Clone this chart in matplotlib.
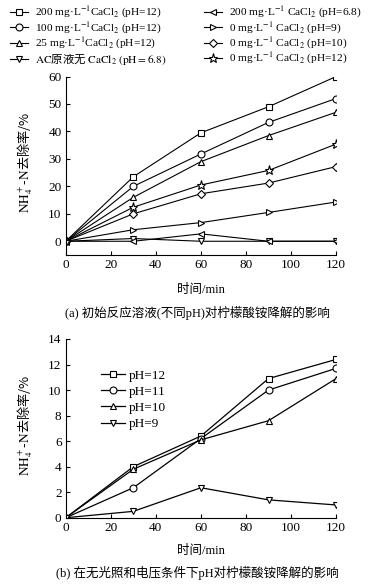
import matplotlib
matplotlib.use("Agg")
import matplotlib.pyplot as plt

plt.rcParams['font.family'] = ['Liberation Serif', 'Noto Sans CJK SC']
plt.rcParams['mathtext.fontset'] = 'stix'
plt.rcParams['axes.linewidth'] = 0.8

CJK = 'Noto Sans CJK SC'

# time points (min), shared by both panels
t = [0, 30, 60, 90, 120]

# panel (a): NH4+-N removal (%)
ca200_ph12 = [0, 23.5, 39.5, 49.0, 60.0]
ca100_ph12 = [0, 20.0, 31.8, 43.3, 52.0]
ca25_ph12 = [0, 16.0, 29.0, 38.5, 47.0]
ac_ph68 = [0, 1.0, 0.0, 0.0, 0.0]
ca200_ph68 = [0, 0.0, 2.7, 0.0, 0.0]
ca0_ph9 = [0, 4.2, 6.8, 10.5, 14.3]
ca0_ph10 = [0, 10.0, 17.3, 21.2, 27.2]
ca0_ph12 = [0, 12.4, 20.5, 25.8, 35.4]

labels_a = [
    r"200 mg·L$^{-1}$CaCl$_2$ (pH=12)",
    r"100 mg·L$^{-1}$CaCl$_2$ (pH=12)",
    r"25 mg·L$^{-1}$CaCl$_2$ (pH=12)",
    r"$\mathrm{AC}$原液无 $\mathrm{CaCl_2\ (pH{=}6.8)}$",
    r"200 mg·L$^{-1}$ CaCl$_2$ (pH=6.8)",
    r"0 mg·L$^{-1}$ CaCl$_2$ (pH=9)",
    r"0 mg·L$^{-1}$ CaCl$_2$ (pH=10)",
    r"0 mg·L$^{-1}$ CaCl$_2$ (pH=12)",
]
series_a = [ca200_ph12, ca100_ph12, ca25_ph12, ac_ph68,
            ca200_ph68, ca0_ph9, ca0_ph10, ca0_ph12]
markers_a = ['s', 'o', '^', 'v', '<', '>', 'D', '*']

# panel (b)
ph12 = [0, 4.0, 6.4, 10.9, 12.4]
ph11 = [0, 2.35, 6.2, 10.0, 11.7]
ph10 = [0, 3.8, 6.1, 7.6, 10.9]
ph9 = [0, 0.5, 2.35, 1.4, 1.0]
labels_b = ["pH=12", "pH=11", "pH=10", "pH=9"]
series_b = [ph12, ph11, ph10, ph9]
markers_b = ['s', 'o', '^', 'v']

fig = plt.figure(figsize=(3.89, 5.87), dpi=100)
ax1 = fig.add_axes([0.169, 0.5656, 0.695, 0.304])
ax2 = fig.add_axes([0.169, 0.118, 0.695, 0.3045])


def msize(m):
    if m == '*':
        return 6.5
    if m == 'D':
        return 4
    return 5


lines_a = []
for y, m in zip(series_a, markers_a):
    ln, = ax1.plot(t, y, color='black', lw=0.8, marker=m, ms=msize(m),
                   mfc='white', mec='black', mew=0.8)
    lines_a.append(ln)

lines_b = []
for y, m in zip(series_b, markers_b):
    ln, = ax2.plot(t, y, color='black', lw=0.9, marker=m, ms=5,
                   mfc='white', mec='black', mew=0.8)
    lines_b.append(ln)

for ax in (ax1, ax2):
    ax.spines['top'].set_visible(False)
    ax.spines['right'].set_visible(False)
    ax.set_xlim(0, 120)
    ax.set_xticks(range(0, 121, 20))
    ax.tick_params(direction='in', length=3, width=0.8, labelsize=9.5, pad=3)
    ax.set_ylabel(r"$\mathrm{NH_4^+}$-$\mathrm{N}$去除率/%", fontfamily=CJK,
                  fontsize=9.5)
    ax.yaxis.set_label_coords(-0.115, 0.52)

ax1.set_ylim(-5, 60)
ax1.set_yticks(range(0, 61, 10))
ax2.set_ylim(0, 14)
ax2.set_yticks(range(0, 15, 2))

leg_kw = dict(loc='upper left', frameon=False, borderpad=0, borderaxespad=0,
              fontsize=8.2, handlelength=1.6, handletextpad=0.6,
              labelspacing=0.0)
leg1 = fig.legend(lines_a[:4], labels_a[:4],
                  bbox_to_anchor=(10 / 389, 1 - 5 / 587), **leg_kw)
leg2 = fig.legend(lines_a[4:], labels_a[4:],
                  bbox_to_anchor=(204 / 389, 1 - 5 / 587), **leg_kw)
leg1.get_texts()[3].set_fontfamily(CJK)

ax2.legend(lines_b, labels_b, loc='upper left', bbox_to_anchor=(0.13, 0.83),
           frameon=False, borderpad=0, borderaxespad=0, fontsize=9.5,
           handlelength=1.85, handletextpad=0.3, labelspacing=0.3)

fig.text(201 / 389, 1 - 290 / 587, "时间/min", ha='center', va='center',
         fontsize=9)
fig.text(197 / 389, 1 - 313 / 587, "(a) 初始反应溶液(不同pH)对柠檬酸铵降解的影响",
         ha='center', va='center', fontsize=9)
fig.text(201 / 389, 1 - 551 / 587, "时间/min", ha='center', va='center',
         fontsize=9)
fig.text(197 / 389, 1 - 573 / 587, "(b) 在无光照和电压条件下pH对柠檬酸铵降解的影响",
         ha='center', va='center', fontsize=9)

fig.savefig("out.png", dpi=100)
